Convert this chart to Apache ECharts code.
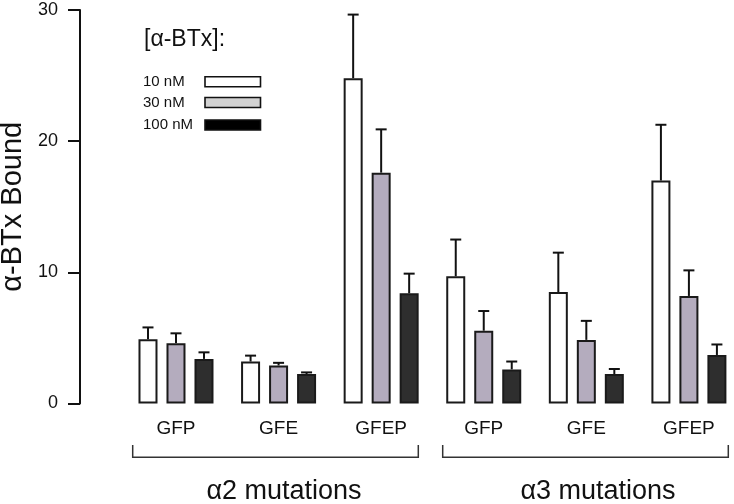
<!DOCTYPE html>
<html>
<head>
<meta charset="utf-8">
<script src="https://cdn.jsdelivr.net/npm/echarts@6/dist/echarts.min.js"></script>
<style>html,body{margin:0;padding:0;background:#fff;}#c{width:734px;height:504px;}</style>
</head>
<body>
<div id="c"></div>
<script>
// ---- data ----
const categories = ['GFP', 'GFE', 'GFEP', 'GFP ', 'GFE ', 'GFEP '];
const seriesNames = ['10 nM', '30 nM', '100 nM'];
const mean10 = [4.9, 3.2, 24.8, 9.7, 8.5, 17.0];
const err10 = [0.9, 0.45, 4.85, 2.8, 3.0, 4.25];
const mean30 = [4.6, 2.9, 17.6, 5.55, 4.85, 8.2];
const err30 = [0.75, 0.2, 3.3, 1.5, 1.45, 1.95];
const mean100 = [3.4, 2.25, 8.4, 2.6, 2.25, 3.7];
const err100 = [0.5, 0.12, 1.5, 0.6, 0.38, 0.8];
const yTicks = [0, 10, 20, 30];
const groupLabels = ['\u03b12 mutations', '\u03b13 mutations'];
const legendTitle = '[\u03b1-BTx]:';
const yName = '\u03b1-BTx Bound';

// ---- styles ----
const FONT = "'Liberation Sans', Arial, sans-serif";
const barFill = ['#ffffff', '#b4acbe', '#2e2e2e'];
const legendFill = ['#ffffff', '#d2d2d2', '#000000'];
const BAR_W = 19, BAR_STEP = 28;

const means = [mean10, mean30, mean100];
const errs = [err10, err30, err100];

const chart = echarts.init(document.getElementById('c'), null, {renderer: 'canvas'});

const barSeries = means.map((m, i) => ({
  name: seriesNames[i],
  type: 'bar',
  data: m,
  barWidth: BAR_W,
  barGap: ((BAR_STEP - BAR_W) / BAR_W * 100) + '%',
  itemStyle: {color: barFill[i], borderColor: '#1a1a1a', borderWidth: 2},
  emphasis: {disabled: true},
  z: 2
}));

const errSeries = means.map((m, i) => ({
  type: 'custom',
  name: seriesNames[i] + ' err',
  data: m.map((v, k) => [k, v, v + errs[i][k]]),
  encode: {x: 0, y: [1, 2]},
  z: 3,
  silent: true,
  renderItem: function (params, api) {
    const c = api.value(0);
    const lo = api.coord([c, api.value(1)]);
    const hi = api.coord([c, api.value(2)]);
    const x = lo[0] + (i - 1) * BAR_STEP;
    const half = 5.5;
    const st = {stroke: '#111', lineWidth: 2, fill: null};
    return {
      type: 'group',
      children: [
        {type: 'line', shape: {x1: x, y1: lo[1], x2: x, y2: hi[1]}, style: st},
        {type: 'line', shape: {x1: x - half, y1: hi[1], x2: x + half, y2: hi[1]}, style: st}
      ]
    };
  }
}));

// legend graphic
const legendRowsY = [81.7, 102.5, 125];
const legendGraphics = [
  {type: 'text', x: 144, y: 39.5, style: {text: legendTitle, font: '23px ' + FONT, fill: '#111', textVerticalAlign: 'middle'}}
];
seriesNames.forEach((n, i) => {
  legendGraphics.push({type: 'text', x: 143, y: legendRowsY[i], style: {text: n, font: '15px ' + FONT, fill: '#111', textVerticalAlign: 'middle'}});
  legendGraphics.push({type: 'rect', shape: {x: 205, y: legendRowsY[i] - 5, width: 55.5, height: 10}, style: {fill: legendFill[i], stroke: '#111', lineWidth: 1.6}});
});

const bracketStyle = {stroke: '#333', lineWidth: 1.5, fill: null};
const decoGraphics = [
  {type: 'polyline', shape: {points: [[132.7, 445], [132.7, 457.3], [418.3, 457.3], [418.3, 445]]}, style: bracketStyle},
  {type: 'polyline', shape: {points: [[442.7, 445], [442.7, 457.3], [728.3, 457.3], [728.3, 445]]}, style: bracketStyle},
  {type: 'text', x: 284, y: 492, style: {text: groupLabels[0], font: '27px ' + FONT, fill: '#111', textAlign: 'center', textVerticalAlign: 'middle'}},
  {type: 'text', x: 598, y: 492, style: {text: groupLabels[1], font: '27px ' + FONT, fill: '#111', textAlign: 'center', textVerticalAlign: 'middle'}}
];

chart.setOption({
  animation: false,
  backgroundColor: '#ffffff',
  grid: {left: 124.7, top: 10, width: 615.5, bottom: 100.5, containLabel: false, outerBoundsMode: 'none'},
  xAxis: {
    type: 'category',
    data: categories,
    axisLine: {show: false},
    axisTick: {show: false},
    axisLabel: {margin: 16, fontSize: 19, fontFamily: FONT, color: '#111', interval: 0,
      formatter: v => v.trim()}
  },
  yAxis: {
    type: 'value',
    min: 0, max: 30, interval: 10,
    offset: 44.7,
    name: yName,
    nameLocation: 'middle',
    nameGap: 49,
    nameTextStyle: {fontSize: 29, fontFamily: FONT, color: '#111'},
    axisLine: {show: true, lineStyle: {color: '#111', width: 2}},
    axisTick: {show: true, length: 12, lineStyle: {color: '#111', width: 2}},
    axisLabel: {margin: 22, fontSize: 18, fontFamily: FONT, color: '#111',
      formatter: v => (yTicks.indexOf(v) >= 0 ? String(v) : '')},
    splitLine: {show: false}
  },
  series: barSeries.concat(errSeries),
  graphic: legendGraphics.concat(decoGraphics)
});
</script>
</body>
</html>
